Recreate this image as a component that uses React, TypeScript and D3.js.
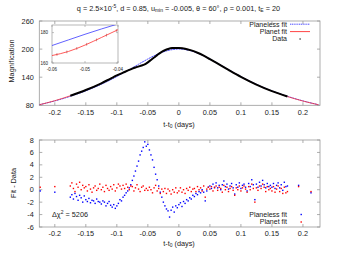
import React from "react";
import * as d3 from "d3";

// model curves (magnification vs t-t0)
const fitT = [-0.225, -0.2, -0.175, -0.15, -0.125, -0.11, -0.1, -0.09, -0.08, -0.075, -0.07, -0.065, -0.06, -0.055, -0.05, -0.045, -0.04, -0.035, -0.03, -0.025, -0.02, -0.015, -0.01, -0.005, 0, 0.01, 0.02, 0.03, 0.04, 0.05, 0.06, 0.08, 0.1, 0.125, 0.15, 0.175, 0.2, 0.225];
const planelessFit = [81.2, 89.4, 99.2, 110.9, 124.9, 134.5, 141.4, 148.7, 156.2, 160.0, 163.8, 167.7, 171.5, 175.2, 178.9, 182.4, 185.7, 188.8, 191.6, 194.0, 196.1, 197.8, 199.0, 199.8, 200.3, 199.0, 196.1, 191.6, 185.7, 178.9, 171.5, 156.2, 141.4, 124.9, 110.9, 99.2, 89.4, 81.2];
const planetFit = [81.2, 89.8, 100.4, 112.6, 127.0, 137.1, 143.8, 149.7, 155.6, 158.4, 160.8, 162.9, 164.9, 167.6, 171.8, 176.8, 181.9, 187.2, 192.1, 196.0, 199.1, 201.4, 202.2, 202.5, 202.3, 200.8, 197.2, 192.2, 185.9, 178.5, 171.0, 155.7, 140.9, 124.3, 110.3, 98.7, 89.1, 81.2];

// inset data points
const insetT = [-0.0585, -0.0555, -0.0525, -0.0495, -0.0465, -0.0435, -0.0405];
const insetMag = [165.6, 167.3, 169.6, 172.3, 175.2, 178.3, 181.4];

// residuals (fit - data)
const resT = [
  -0.2235, -0.2,
  -0.175, -0.1725, -0.17, -0.1675, -0.165, -0.1625, -0.16, -0.1575, -0.155, -0.1525,
  -0.15, -0.1475, -0.145, -0.1425, -0.14, -0.1375, -0.135, -0.1325, -0.13, -0.1275,
  -0.125, -0.1225, -0.12, -0.1175, -0.115, -0.1125, -0.11, -0.1075, -0.105, -0.1025,
  -0.1, -0.0975, -0.095, -0.0925, -0.09, -0.0875, -0.085, -0.0825, -0.08, -0.0775,
  -0.075, -0.0725, -0.07, -0.0675, -0.065, -0.0625, -0.06, -0.0575, -0.055, -0.0525,
  -0.05, -0.0475, -0.045, -0.0425, -0.04, -0.0375, -0.035, -0.0325, -0.03, -0.0275,
  -0.025, -0.0225, -0.02, -0.0175, -0.015, -0.0125, -0.01, -0.0075, -0.005, -0.0025,
  0, 0.0025, 0.005, 0.0075, 0.01, 0.0125, 0.015, 0.0175, 0.02, 0.0225,
  0.025, 0.0275, 0.03, 0.0325, 0.035, 0.0375, 0.04, 0.0425, 0.045, 0.0475,
  0.05, 0.0525, 0.055, 0.0575, 0.06, 0.0625, 0.065, 0.0675, 0.07, 0.0725,
  0.075, 0.0775, 0.08, 0.0825, 0.085, 0.0875, 0.09, 0.0925, 0.095, 0.0975,
  0.1, 0.1025, 0.105, 0.1075, 0.11, 0.1125, 0.115, 0.1175, 0.12, 0.1225,
  0.125, 0.1275, 0.13, 0.1325, 0.135, 0.1375, 0.14, 0.1425, 0.145, 0.1475,
  0.15, 0.1525, 0.155, 0.1575, 0.16, 0.1625, 0.165, 0.1675, 0.17, 0.1725,
  0.175, 0.193, 0.213,
];
const resPlaneless = [
  -0.2, -0.4,
  -1.2, -0.8, -1.5, -0.6, -1.1, -1.7, -0.9, -1.3, -2.0, -1.0,
  -1.6, -1.9, -1.4, -2.1, -1.7, -1.8, -2.2, -1.5, -1.9, -2.0,
  -2.3, -1.8, -2.0, -2.6, -2.2, -1.9, -2.5, -2.8, -2.4, -3.0,
  -2.6, -2.2, -1.6, -1.8, -1.2, -0.9, -0.5, -0.2, 0.3, 0.8,
  1.5, 2.2, 3.0, 3.8, 4.6, 5.6, 6.2, 6.8, 7.7, 7.0,
  7.3, 6.4, 5.6, 4.8, 3.6, 2.5, 1.6, 0.6, -0.4, -1.2,
  -2.0, -2.6, -3.1, -3.4, -4.4, -3.3, -2.8, -3.6, -2.6, -2.9,
  -2.4, -2.1, -2.7, -1.9, -2.2, -1.6, -1.8, -1.3, -1.5, -0.9,
  -1.1, -0.6, -0.8, -0.3, -0.5, 0.0, -0.4, -1.8, -0.2, 0.4,
  0.6, 0.2, 0.9, 0.4, 1.1, 0.3, 0.7, 0.0, 0.8, 1.4,
  0.5, 0.9, 0.1, 0.6, 1.0, 0.3, -0.7, 0.8, 0.4, 1.1,
  0.2, 0.7, 0.9, 0.4, -0.2, 1.0, 0.5, 1.6, 0.8, -1.6,
  0.9, 0.4, 1.2, 0.6, 1.5, 0.8, 0.3, 1.0, 0.5, 0.7,
  0.4, 1.0, 0.2, 0.7, 1.1, 0.3, 0.8, -0.1, 1.2, 0.5,
  0.6, 0.7, -0.5,
];
const resPlanet = [
  0.4, 0.5,
  0.6, 1.1, 0.2, -0.3, 0.9, 0.4, 1.2, 0.0, 0.7, 0.3,
  0.5, -0.2, 0.8, 0.1, -0.4, 0.3, 0.6, -0.1, 0.2, 0.9,
  0.0, 0.4, -0.3, 0.7, 0.2, -0.1, 0.5, 0.1, 0.8, -0.2,
  0.3, 0.9, 0.6, 0.1, 0.7, 0.2, 0.9, 0.4, 0.0, 0.6,
  0.5, -0.2, 0.3, 0.8, 0.1, -0.3, 0.4, 0.6, -0.1, 0.2,
  -0.1, 0.4, 0.0, -0.5, 0.3, 0.7, -0.2, 0.2, -0.6, 0.1,
  -0.3, 0.2, -0.6, 0.1, -0.2, -0.7, 0.0, -0.4, 0.3, -0.5,
  -0.2, 0.3, -0.4, 0.0, -0.6, 0.2, -0.1, 0.4, -0.3, 0.1,
  0.2, -0.3, 0.5, 0.0, 0.3, -0.2, 0.6, -1.2, 0.1, 0.4,
  0.1, 0.5, -0.2, 0.3, 0.6, -0.1, 0.4, 0.2, -0.4, 0.7,
  0.0, 0.4, -0.3, 0.2, 0.5, -0.1, -0.9, 0.3, 0.0, 0.6,
  -0.2, 0.3, 0.6, 0.1, -0.4, 0.5, 0.0, 0.9, 0.2, -2.0,
  0.3, -0.1, 0.6, 0.2, 0.9, 0.4, -0.3, 0.5, 0.0, 0.2,
  -0.2, 0.5, -0.4, 0.1, 0.6, -0.3, 0.2, -0.6, 0.4, -0.5,
  -0.3, 0.5, -0.3,
];

const xTicks = [-0.2, -0.15, -0.1, -0.05, 0, 0.05, 0.1, 0.15, 0.2];
const xTickLabels = ["-0.2", "-0.15", "-0.1", "-0.05", "0", "0.05", "0.1", "0.15", "0.2"];
const magTicks = [80, 140, 200, 260];
const resTicks = [-6, -4, -2, 0, 2, 4, 6, 8];
const insetXTicks = [-0.06, -0.05, -0.04];
const insetYTicks = [160, 180];

const BLUE = "#3a3aff";
const RED = "#ff3030";
const FRAME = "#999";
const INK = "#222";
const FONT = "Liberation Sans, Arial, sans-serif";
const FS = 7.3; // ticks and axis titles
const LFS = 7; // legends

export default function App() {
  const x = d3.scaleLinear().domain([-0.225, 0.2275]).range([39.3, 320]);
  const yTop = d3.scaleLinear().domain([80, 260]).range([105.3, 21]);
  const yBot = d3.scaleLinear().domain([-6, 8]).range([227, 140]);

  const ix = d3.scaleLinear().domain([-0.06, -0.04]).range([52, 118]);
  const iy = d3.scaleLinear().domain([160, 185]).range([63, 25]);

  const fitPts = fitT.map((t, i) => ({ t, a: planelessFit[i], b: planetFit[i] }));
  const lineA = d3.line<any>().x((d) => x(d.t)).y((d) => yTop(d.a)).curve(d3.curveMonotoneX);
  const lineB = d3.line<any>().x((d) => x(d.t)).y((d) => yTop(d.b)).curve(d3.curveMonotoneX);
  const dataPts = fitPts.filter((d) => d.t >= -0.175 && d.t <= 0.175);
  const inA = d3.line<any>().x((d) => ix(d.t)).y((d) => iy(d.a)).curve(d3.curveMonotoneX);
  const inB = d3.line<any>().x((d) => ix(d.t)).y((d) => iy(d.b)).curve(d3.curveMonotoneX);
  const insetPts = fitPts.filter((d) => d.t >= -0.065 && d.t <= -0.035);

  const xAxis = (y0: number, y1: number) => (
    <g>
      <rect x={39.3} y={y0} width={320 - 39.3} height={y1 - y0} fill="none" stroke={FRAME} strokeWidth={0.8} />
      {xTicks.map((t, i) => (
        <g key={i}>
          <line x1={x(t)} x2={x(t)} y1={y1} y2={y1 - 3} stroke={FRAME} strokeWidth={0.8} />
          <line x1={x(t)} x2={x(t)} y1={y0} y2={y0 + 3} stroke={FRAME} strokeWidth={0.8} />
          <text x={x(t)} y={y1 + 9.2} textAnchor="middle" fontSize={FS} fill={INK}>{xTickLabels[i]}</text>
        </g>
      ))}
    </g>
  );

  return (
    <svg width={354} height={255} style={{ position: "absolute", left: 0, top: 0, background: "#fff" }} fontFamily={FONT}>
      <defs>
        <clipPath id="clipTop"><rect x={39.3} y={21} width={320 - 39.3} height={84.3} /></clipPath>
        <clipPath id="clipInset"><rect x={52} y={25} width={66} height={38} /></clipPath>
      </defs>

      {/* title */}
      <text x={178.5} y={10.5} textAnchor="middle" fontSize={7.3} fill={INK}>
        q = 2.5×10<tspan dy={-2.8} fontSize={5}>-5</tspan>
        <tspan dy={2.8}>, d = 0.85, u</tspan>
        <tspan dy={1.6} fontSize={5}>min</tspan>
        <tspan dy={-1.6}> = -0.005, θ = 60°, ρ = 0.001, t</tspan>
        <tspan dy={1.6} fontSize={5}>E</tspan>
        <tspan dy={-1.6}> = 20</tspan>
      </text>

      {/* top panel */}
      {xAxis(21, 105.3)}
      {magTicks.map((m) => (
        <g key={m}>
          <line x1={39.3} x2={42.3} y1={yTop(m)} y2={yTop(m)} stroke={FRAME} strokeWidth={0.8} />
          <line x1={320} x2={317} y1={yTop(m)} y2={yTop(m)} stroke={FRAME} strokeWidth={0.8} />
          <text x={33.8} y={yTop(m) + 2.5} textAnchor="end" fontSize={FS} fill={INK}>{m}</text>
        </g>
      ))}
      <text transform="translate(13.5,61) rotate(-90)" textAnchor="middle" fontSize={FS} fill={INK}>Magnification</text>
      <text x={179} y={126.5} textAnchor="middle" fontSize={FS} fill={INK}>
        t-t<tspan dy={1.6} fontSize={5}>0</tspan><tspan dy={-1.6}> (days)</tspan>
      </text>
      <g clipPath="url(#clipTop)">
        <path d={lineA(fitPts) || ""} fill="none" stroke={BLUE} strokeWidth={0.9} strokeDasharray="2,0.6" />
        <path d={lineB(fitPts) || ""} fill="none" stroke={RED} strokeWidth={0.9} opacity={0.85} />
        <path d={lineB(dataPts) || ""} fill="none" stroke="#000" strokeWidth={2} />
      </g>

      {/* legend top */}
      <text x={287} y={26.5} textAnchor="end" fontSize={LFS} fill={INK}>Planeless fit</text>
      <line x1={290} x2={310} y1={24.2} y2={24.2} stroke={BLUE} strokeWidth={0.9} strokeDasharray="1.2,0.6" />
      <text x={287} y={33.9} textAnchor="end" fontSize={LFS} fill={INK}>Planet fit</text>
      <line x1={290} x2={310} y1={31.6} y2={31.6} stroke={RED} strokeWidth={0.9} />
      <text x={287} y={41.3} textAnchor="end" fontSize={LFS} fill={INK}>Data</text>
      <rect x={299.5} y={38.4} width={1.2} height={1.2} fill="#000" />

      {/* inset */}
      <rect x={52} y={25} width={66} height={38} fill="#fff" stroke={FRAME} strokeWidth={0.7} />
      {insetYTicks.map((m) => (
        <g key={m}>
          <line x1={52} x2={54} y1={iy(m)} y2={iy(m)} stroke={FRAME} strokeWidth={0.6} />
          <line x1={118} x2={116} y1={iy(m)} y2={iy(m)} stroke={FRAME} strokeWidth={0.6} />
          <text x={48} y={iy(m) + 1.6} textAnchor="end" fontSize={4.5} fill={INK}>{m}</text>
        </g>
      ))}
      {insetXTicks.map((t) => (
        <g key={t}>
          <line x1={ix(t)} x2={ix(t)} y1={63} y2={61} stroke={FRAME} strokeWidth={0.6} />
          <line x1={ix(t)} x2={ix(t)} y1={25} y2={27} stroke={FRAME} strokeWidth={0.6} />
          <text x={ix(t)} y={70.5} textAnchor="middle" fontSize={4.5} fill={INK}>{t.toFixed(2)}</text>
        </g>
      ))}
      <g clipPath="url(#clipInset)">
        <path d={inA(insetPts) || ""} fill="none" stroke={BLUE} strokeWidth={0.8} />
        <path d={inB(insetPts) || ""} fill="none" stroke={RED} strokeWidth={0.8} />
        {insetT.map((t, i) => (
          <line key={i} x1={ix(t)} x2={ix(t)} y1={iy(insetMag[i] - 0.9)} y2={iy(insetMag[i] + 0.9)} stroke="#b44" strokeWidth={0.6} />
        ))}
      </g>

      {/* bottom panel */}
      {xAxis(140, 227)}
      {resTicks.map((m) => (
        <g key={m}>
          <line x1={39.3} x2={42.3} y1={yBot(m)} y2={yBot(m)} stroke={FRAME} strokeWidth={0.8} />
          <line x1={320} x2={317} y1={yBot(m)} y2={yBot(m)} stroke={FRAME} strokeWidth={0.8} />
          <text x={33.8} y={yBot(m) + 2.5} textAnchor="end" fontSize={FS} fill={INK}>{m}</text>
        </g>
      ))}
      <text transform="translate(16,183) rotate(-90)" textAnchor="middle" fontSize={FS} fill={INK}>Fit - Data</text>
      <text x={179} y={245.5} textAnchor="middle" fontSize={FS} fill={INK}>
        t-t<tspan dy={1.6} fontSize={5}>0</tspan><tspan dy={-1.6}> (days)</tspan>
      </text>
      {resT.map((t, i) => (
        <rect key={"b" + i} x={x(t) - 0.7} y={yBot(resPlaneless[i]) - 0.7} width={1.4} height={1.4} fill="#0000ff" />
      ))}
      {resT.map((t, i) => (
        <rect key={"r" + i} x={x(t) - 0.7} y={yBot(resPlanet[i]) - 0.7} width={1.4} height={1.4} fill="#ff0000" />
      ))}
      <text x={52} y={216.5} fontSize={FS} fill={INK}>
        Δχ<tspan dy={-2.8} fontSize={5}>2</tspan><tspan dy={2.8}> = 5206</tspan>
      </text>

      {/* legend bottom */}
      <text x={287} y={216.5} textAnchor="end" fontSize={LFS} fill={INK}>Planeless fit</text>
      <rect x={300.5} y={213.8} width={1.4} height={1.4} fill="#0000ff" />
      <text x={287} y={224} textAnchor="end" fontSize={LFS} fill={INK}>Planet fit</text>
      <rect x={300.5} y={221.3} width={1.4} height={1.4} fill="#ff0000" />
    </svg>
  );
}
